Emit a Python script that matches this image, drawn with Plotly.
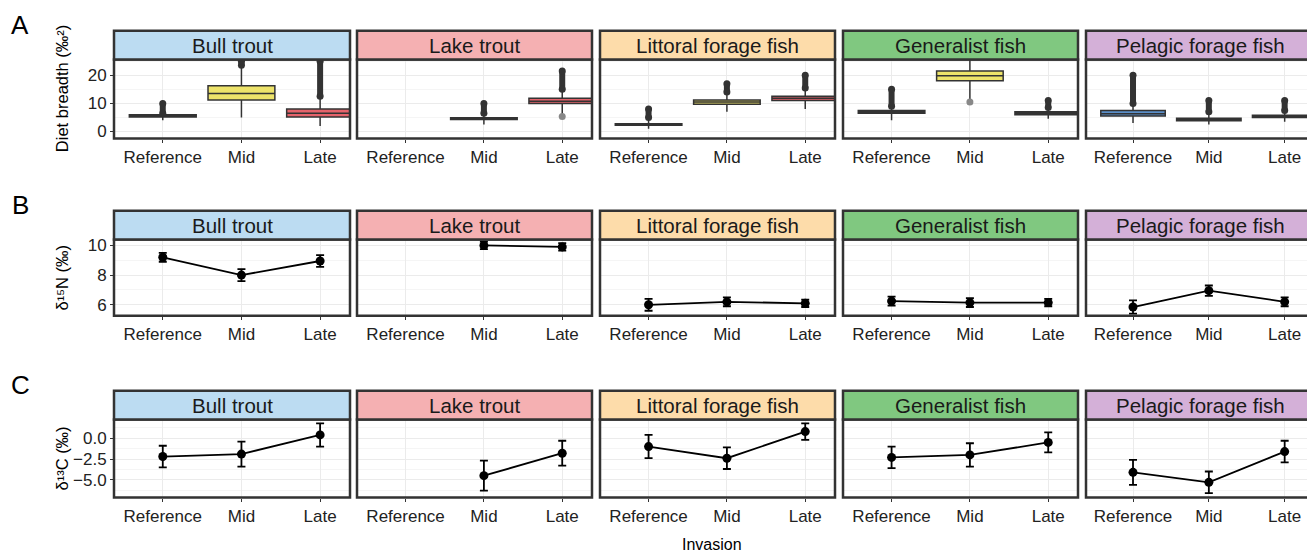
import plotly.graph_objects as go
from plotly.subplots import make_subplots

OFF = 8  # page body margin
W, H = 1315 - OFF, 556 - OFF
species = ["Bull trout", "Lake trout", "Littoral forage fish", "Generalist fish", "Pelagic forage fish"]
strip_colors = ["#bcdcf2", "#f5b0b2", "#fddcaa", "#80c880", "#d4b0d8"]
periods = ["Reference", "Mid", "Late"]
period_colors = ["#5b8fc9", "#ede36a", "#e5636b"]

# panel A: diet breadth boxes, per species [Reference, Mid, Late]; None = no data
box_q1 = [[5.2, 11.2, 5.2], [None, 4.3, 10.0], [2.2, 9.7, 11.0], [6.5, 18.0, 6.0], [5.5, 3.8, 5.0]]
box_med = [[5.6, 13.5, 6.5], [None, 4.6, 10.8], [2.5, 10.5, 11.8], [7.0, 19.8, 6.5], [6.3, 4.2, 5.4]]
box_q3 = [[6.0, 16.3, 8.0], [None, 4.9, 11.8], [2.8, 11.2, 12.5], [7.5, 21.5, 7.0], [7.5, 4.7, 5.8]]
box_lo = [[4.0, 5.0, 2.0], [None, 2.5, 5.5], [1.0, 7.0, 8.0], [4.0, 11.5, 4.5], [3.0, 2.5, 3.5]]
box_hi = [[6.5, 23.5, 12.5], [None, 6.5, 15.0], [5.0, 14.0, 15.5], [9.0, 25.5, 8.5], [10.0, 7.0, 7.5]]
out_max = [[10.0, 25.0, 25.0], [None, 10.0, 21.5], [8.0, 17.0, 20.0], [15.0, None, 11.0], [20.0, 11.0, 11.0]]
out_low = [[None, None, None], [None, None, 5.3], [None, None, None], [None, 10.5, None], [None, None, None]]

# panel B: d15N mean and error
n_mean = [[9.2, 8.0, 8.95], [None, 10.0, 9.9], [6.0, 6.2, 6.1], [6.25, 6.15, 6.15], [5.85, 6.95, 6.2]]
n_err = [[0.3, 0.4, 0.4], [None, 0.25, 0.25], [0.4, 0.3, 0.25], [0.3, 0.3, 0.25], [0.45, 0.35, 0.3]]
# panel C: d13C mean and error
c_mean = [[-2.2, -1.9, 0.4], [None, -4.5, -1.8], [-1.0, -2.4, 0.8], [-2.3, -2.0, -0.5], [-4.1, -5.3, -1.6]]
c_err = [[1.3, 1.5, 1.4], [None, 1.8, 1.5], [1.4, 1.3, 1.0], [1.3, 1.4, 1.2], [1.5, 1.3, 1.3]]

col_px = [(114, 350), (357, 592), (600, 835), (843, 1078), (1086, 1320)]
row_px = [(28, 57, 137), (210, 239, 316), (392, 421, 500)]  # strip top, plot top, plot bottom
yranges = [[-2.5, 25.6], [5.27, 10.4], [-7.14, 2.26]]
yticks = [[0, 10, 20], [6, 8, 10], [0, -2.5, -5]]
yminor = [5, 1, 1.25]
ytext = [["0", "10", "20"], ["6", "8", "10"], ["0.0", "−2.5", "−5.0"]]
ytitles = ["Diet breadth (‰²)", "δ¹⁵N (‰)", "δ¹³C (‰)"]
letters = ["A", "B", "C"]


def px(x):
    return (x - OFF) / W


def py(y):
    return 1 - (y - OFF) / H


fig = make_subplots(rows=3, cols=5)
font = "Liberation Sans, Arial, sans-serif"

for r in range(3):
    st, pt, pb = row_px[r]
    for c in range(5):
        x0, x1 = col_px[c]
        n = r * 5 + c + 1
        xa = "xaxis" if n == 1 else f"xaxis{n}"
        ya = "yaxis" if n == 1 else f"yaxis{n}"
        xr = [-0.62, 2.38] if c < 4 else [-0.62, 2.4]
        fig.layout[xa].update(domain=[px(x0), min(px(x1), 1)], range=xr, tickvals=[0, 1, 2],
                              ticktext=periods, showgrid=True, gridcolor="#ebebeb", gridwidth=1.3, zeroline=False,
                              ticks="outside", ticklen=3, tickcolor="#333", tickfont=dict(size=17, color="#222"))
        fig.layout[ya].update(domain=[py(pb), py(pt)], range=yranges[r], tickvals=yticks[r],
                              ticktext=ytext[r] if c == 0 else None, showticklabels=(c == 0),
                              showgrid=True, gridcolor="#ebebeb", gridwidth=1.3, zeroline=False,
                              minor=dict(dtick=yminor[r], tick0=0, showgrid=True, gridcolor="#f5f5f5"),
                              ticks="outside" if c == 0 else "", ticklen=3, tickcolor="#333",
                              tickfont=dict(size=17, color="#222"))
        fig.add_shape(type="rect", xref="paper", yref="paper", x0=px(x0), x1=px(x1),
                      y0=py(pb), y1=py(pt), line=dict(color="#333", width=2.5), layer="above")
        fig.add_shape(type="rect", xref="paper", yref="paper", x0=px(x0), x1=px(x1),
                      y0=py(pt), y1=py(st), fillcolor=strip_colors[c],
                      line=dict(color="#333", width=2.5))
        fig.add_annotation(xref="paper", yref="paper", x=px((x0 + min(x1, 1315)) / 2), y=py((st + pt) / 2),
                           xanchor="center", yanchor="middle",
                           text=species[c], showarrow=False, font=dict(size=20.5, color="#1a1a1a", family=font))
        if r == 0:
            for k in range(3):
                if box_med[c][k] is None:
                    continue
                if out_max[c][k] is not None:
                    fig.add_trace(go.Scatter(x=[k, k], y=[box_hi[c][k], out_max[c][k]], mode="lines+markers",
                                             line=dict(color="#333", width=6), marker=dict(size=7, color="#333"),
                                             showlegend=False), row=1, col=c + 1)
                if out_low[c][k] is not None:
                    fig.add_trace(go.Scatter(x=[k], y=[out_low[c][k]], mode="markers",
                                             marker=dict(size=7, color="#888"), showlegend=False), row=1, col=c + 1)
                fig.add_trace(go.Box(x=[k], q1=[box_q1[c][k]], median=[box_med[c][k]], q3=[box_q3[c][k]],
                                     lowerfence=[box_lo[c][k]], upperfence=[box_hi[c][k]], width=0.85,
                                     whiskerwidth=0,
                                     fillcolor=period_colors[k], line=dict(color="#333", width=1.5),
                                     boxpoints=False, showlegend=False), row=1, col=c + 1)
        else:
            means = n_mean if r == 1 else c_mean
            errs = n_err if r == 1 else c_err
            xs = [k for k in range(3) if means[c][k] is not None]
            fig.add_trace(go.Scatter(x=xs, y=[means[c][k] for k in xs], mode="lines+markers",
                                     line=dict(color="black", width=1.8), marker=dict(size=9, color="black"),
                                     error_y=dict(type="data", array=[errs[c][k] for k in xs], color="black",
                                                  thickness=1.8, width=4),
                                     showlegend=False), row=r + 1, col=c + 1)
    fig.add_annotation(xref="paper", yref="paper", x=px(20), y=py(st - 6), text=letters[r],
                       xanchor="center", yanchor="middle",
                       showarrow=False, font=dict(size=26, color="black", family=font))
    fig.add_annotation(xref="paper", yref="paper", x=px(62), y=py((pt + pb - (20 if r == 0 else 0)) / 2),
                       xanchor="center", yanchor="middle",
                       text=ytitles[r], textangle=-90, showarrow=False,
                       font=dict(size=16.5, color="black", family=font))

fig.add_annotation(xref="paper", yref="paper", x=px(712), y=py(547), text="Invasion", showarrow=False,
                   xanchor="center", yanchor="middle", font=dict(size=16, color="black", family=font))
fig.update_layout(width=W, height=H, margin=dict(l=0, r=0, t=0, b=0), plot_bgcolor="white",
                  paper_bgcolor="white", font=dict(family=font))
fig.write_html("out.html")
